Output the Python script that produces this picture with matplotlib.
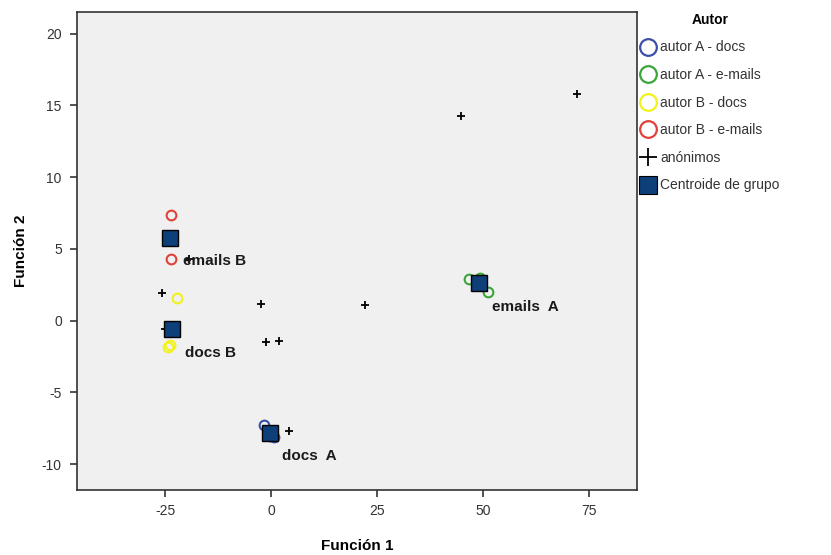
import matplotlib.pyplot as plt
from matplotlib.lines import Line2D

plt.rcParams['font.family'] = ['Liberation Sans', 'DejaVu Sans']
plt.rcParams['axes.unicode_minus'] = False

# Puntuaciones discriminantes (Función 1, Función 2)
autorA_docs_x = [-1.6, -0.2, 0.6]
autorA_docs_y = [-7.3, -8.0, -8.1]
autorA_mails_x = [46.7, 51.2, 49.3]
autorA_mails_y = [2.9, 2.0, 3.0]
autorB_docs_x = [-22.2, -23.8, -24.3]
autorB_docs_y = [1.6, -1.7, -1.8]
autorB_mails_x = [-23.6, -23.6, -24.0]
autorB_mails_y = [7.4, 4.3, 5.7]
anon_x = [44.8, 72.2, 22.2, -2.4, -1.2, 1.9, 4.2, -25.7, -19.5, -25.0]
anon_y = [14.3, 15.8, 1.1, 1.2, -1.5, -1.4, -7.7, 1.9, 4.3, -0.6]

centroid_x = [-0.3, 49.1, -23.4, -23.8]
centroid_y = [-7.8, 2.6, -0.6, 5.8]
centroid_lab = ['docs  A', 'emails  A', 'docs B', 'emails B']

grupos = [
    ('autor A - docs', autorA_docs_x, autorA_docs_y, '#3a4fa8'),
    ('autor A - e-mails', autorA_mails_x, autorA_mails_y, '#3aa53a'),
    ('autor B - docs', autorB_docs_x, autorB_docs_y, '#f2f21a'),
    ('autor B - e-mails', autorB_mails_x, autorB_mails_y, '#e0423a'),
]

fig = plt.figure(figsize=(8.31, 5.55), dpi=100)
ax = fig.add_axes([0.0927, 0.117, 0.674, 0.861])
ax.set_facecolor('#f0f0f0')

for nombre, xs, ys, col in grupos:
    ax.plot(xs, ys, 'o', mfc='none', mec=col, ms=7, mew=1.5, zorder=3)

ax.plot(anon_x, anon_y, '+', color='black', ms=6, mew=1.3, zorder=3)
ax.plot(centroid_x, centroid_y, 's', mfc='#0d3f78', mec='black', ms=11, mew=1, zorder=4)

for cx, cy, lab in zip(centroid_x, centroid_y, centroid_lab):
    ax.annotate(lab, (cx, cy), xytext=(9, -17), textcoords='offset points',
                ha='left', va='center', fontsize=11, fontweight='bold', color='#1a1a1a', zorder=5)

ax.set_xlim(-45.8, 86.3)
ax.set_ylim(-11.8, 21.5)
ax.set_xticks([-25, 0, 25, 50, 75])
ax.set_yticks([-10, -5, 0, 5, 10, 15, 20])
ax.tick_params(direction='out', length=5, width=1.2, labelsize=10, colors='#333333', pad=5)
ax.tick_params(axis='y', pad=6)
for s in ax.spines.values():
    s.set_linewidth(1.2)
    s.set_color('#333333')

ax.set_xlabel('Función 1', fontsize=11, fontweight='bold', labelpad=15)
ax.set_ylabel('Función 2', fontsize=11, fontweight='bold', labelpad=10)

handles = [Line2D([], [], ls='none', marker='o', mfc='none', mec=col, ms=12, mew=1.6)
           for _, _, _, col in grupos]
handles.append(Line2D([], [], ls='none', marker='+', color='black', ms=13, mew=1.3))
handles.append(Line2D([], [], ls='none', marker='s', mfc='#0d3f78', mec='black', ms=13, mew=0.8))
labels = [g[0] for g in grupos] + ['anónimos', 'Centroide de grupo']

leg = fig.legend(handles, labels, title='Autor', loc='upper left', bbox_to_anchor=(0.768, 0.982),
                 frameon=False, fontsize=10, handlelength=1.0, handletextpad=0.4,
                 labelspacing=0.98, borderaxespad=0, borderpad=0.2)
leg.get_title().set_fontweight('bold')
leg.get_title().set_fontsize(10)
for t in leg.get_texts():
    t.set_color('#333333')

fig.savefig('out.png', dpi=100)
